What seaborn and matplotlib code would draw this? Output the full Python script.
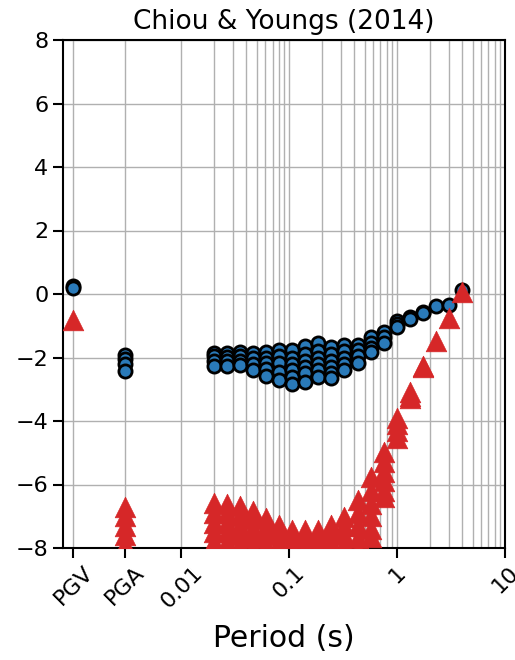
import matplotlib
matplotlib.use("Agg")
import matplotlib.pyplot as plt
import numpy as np
import pandas as pd
import seaborn as sns
from matplotlib.ticker import FixedLocator, NullFormatter

# Periods (s); PGV and PGA are placed at 0.001 and 0.003 on the log axis
periods = [0.001, 0.003,
           0.02, 0.0264, 0.0349, 0.0462, 0.061, 0.0806, 0.1066, 0.1408,
           0.1861, 0.246, 0.3251, 0.4297, 0.5678, 0.7505, 0.9918, 1.311,
           1.733, 2.29, 3.026, 4.0]

tick_positions = [0.001, 0.003, 0.01, 0.1, 1, 10]
tick_labels = ["PGV", "PGA", "0.01", "0.1", "1", "10"]

# Values plotted as circles, one list per period
circle_values = [
    [0.25, 0.2],
    [-1.92, -2.05, -2.2, -2.43],
    [-1.86, -1.95, -2.1, -2.27],
    [-1.86, -1.97, -2.12, -2.27],
    [-1.83, -1.95, -2.1, -2.24],
    [-1.86, -2.0, -2.2, -2.39],
    [-1.83, -2.0, -2.17, -2.35, -2.58],
    [-1.76, -1.95, -2.17, -2.46, -2.72],
    [-1.76, -2.0, -2.2, -2.39, -2.6, -2.85],
    [-1.65, -1.9, -2.1, -2.3, -2.5, -2.78],
    [-1.54, -1.8, -2.0, -2.2, -2.4, -2.6],
    [-1.67, -1.9, -2.1, -2.3, -2.5, -2.65],
    [-1.6, -1.8, -2.0, -2.2, -2.39],
    [-1.6, -1.75, -1.95, -2.17],
    [-1.35, -1.55, -1.7, -1.83],
    [-1.2, -1.35, -1.54],
    [-0.85, -0.95, -1.05],
    [-0.72, -0.8],
    [-0.56, -0.6],
    [-0.38],
    [-0.35],
    [0.12],
]

# Values plotted as triangles, one list per period
triangle_values = [
    [-0.82],
    [-6.7, -7.0, -7.3, -7.6, -7.9, -8.2],
    [-6.58, -6.9, -7.2, -7.5, -7.8, -8.1],
    [-6.61, -6.9, -7.2, -7.5, -7.8, -8.1],
    [-6.68, -7.0, -7.3, -7.6, -7.9, -8.2],
    [-6.83, -7.1, -7.4, -7.7, -8.0, -8.2],
    [-7.05, -7.3, -7.6, -7.9, -8.2],
    [-7.28, -7.5, -7.8, -8.1],
    [-7.43, -7.7, -8.0, -8.3],
    [-7.43, -7.7, -8.0, -8.3],
    [-7.43, -7.7, -8.0, -8.3],
    [-7.28, -7.5, -7.8, -8.1],
    [-7.02, -7.3, -7.6, -7.9, -8.2],
    [-6.5, -6.9, -7.3, -7.7, -8.1],
    [-5.76, -6.2, -6.6, -7.0, -7.4, -7.65],
    [-4.98, -5.3, -5.6, -5.9, -6.2, -6.4],
    [-3.9, -4.1, -4.3, -4.54],
    [-3.09, -3.2, -3.28],
    [-2.27, -2.3],
    [-1.48],
    [-0.76],
    [0.05],
]


def long_form(values):
    rows = [(p, v) for p, vals in zip(periods, values) for v in vals]
    return pd.DataFrame(rows, columns=["period", "value"])


df_circles = long_form(circle_values)
df_triangles = long_form(triangle_values)

sns.set_style("ticks")
plt.rcParams["font.family"] = ["DejaVu Sans"]
plt.rcParams["text.color"] = "black"
plt.rcParams["axes.labelcolor"] = "black"

fig = plt.figure(figsize=(5.15, 6.6), dpi=100)
ax = fig.add_axes([63 / 515, 1 - 548 / 660, (505 - 63) / 515, (548 - 40) / 660])

sns.scatterplot(data=df_circles, x="period", y="value", marker="o", s=90,
                color="#2a7ab9", edgecolor="black", linewidth=2,
                ax=ax, zorder=3, legend=False)
sns.scatterplot(data=df_triangles, x="period", y="value", marker="^", s=220,
                color="#d62728", edgecolor="#d62728", linewidth=0.5,
                ax=ax, zorder=4, legend=False)

ax.set_xscale("log")
ax.set_xlim(0.0008, 10)
ax.set_ylim(-8, 8)
ax.set_yticks(np.arange(-8, 9, 2))

ax.set_xticks(tick_positions)
ax.set_xticklabels(tick_labels, rotation=45)
minor = [m * 10.0 ** k for k in (-2, -1, 0) for m in range(2, 10)]
ax.xaxis.set_minor_locator(FixedLocator(minor))
ax.xaxis.set_minor_formatter(NullFormatter())
ax.tick_params(which="minor", length=0)
ax.tick_params(which="major", length=7, width=1.5, labelsize=16,
               color="black", labelcolor="black", direction="out")

ax.grid(which="both", axis="x", color="#b0b0b0", linewidth=1)
ax.grid(which="major", axis="y", color="#b0b0b0", linewidth=1)
ax.set_axisbelow(True)

for spine in ax.spines.values():
    spine.set_visible(True)
    spine.set_color("black")
    spine.set_linewidth(1.5)

ax.set_title("Chiou & Youngs (2014)", fontsize=19, pad=8, color="black")
ax.set_xlabel("Period (s)", fontsize=21.5, labelpad=9, color="black")
ax.set_ylabel("")

fig.savefig("out.png", dpi=100)
